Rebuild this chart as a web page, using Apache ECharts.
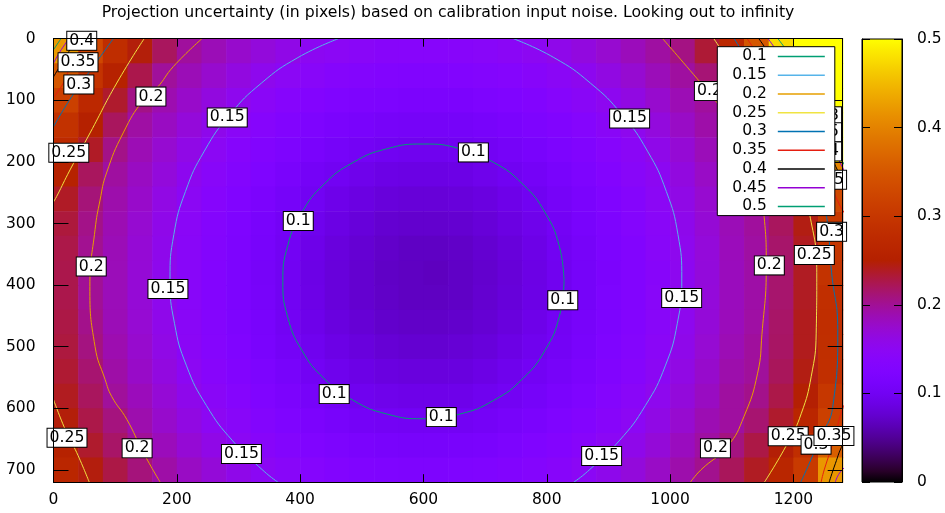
<!DOCTYPE html>
<html>
<head>
<meta charset="utf-8">
<script src="https://cdn.jsdelivr.net/npm/echarts@6/dist/echarts.min.js"></script>
<style>
  html,body{margin:0;padding:0;background:#fff}
  #main{width:945px;height:513px}
</style>
</head>
<body>
<div id="main"></div>
<script>
// cell centres of the sampled field (pixel coords of the camera image)
const xCenters = [20,60,100,140,180,220,260,300,340,380,420,460,500,540,580,620,660,700,740,780,820,860,900,940,980,1020,1060,1100,1140,1180,1220,1260];
const yCenters = [20,60,100,140,180,220,260,300,340,380,420,460,500,540,580,620,660,700];

// projection uncertainty, one row per yCenters entry
const uncertainty = [
  [0.421,0.327,0.281,0.247,0.220,0.197,0.186,0.176,0.167,0.159,0.151,0.147,0.143,0.140,0.139,0.139,0.140,0.142,0.146,0.151,0.157,0.165,0.174,0.184,0.195,0.207,0.233,0.271,0.350,0.475,0.580,0.650],
  [0.350,0.293,0.256,0.226,0.198,0.186,0.175,0.164,0.155,0.147,0.141,0.136,0.132,0.129,0.128,0.128,0.129,0.132,0.135,0.140,0.146,0.153,0.163,0.173,0.185,0.196,0.212,0.240,0.291,0.392,0.520,0.600],
  [0.316,0.271,0.236,0.206,0.189,0.177,0.165,0.154,0.145,0.138,0.131,0.126,0.122,0.119,0.117,0.117,0.118,0.121,0.125,0.130,0.137,0.144,0.152,0.163,0.175,0.187,0.197,0.222,0.246,0.305,0.416,0.580],
  [0.291,0.252,0.220,0.194,0.181,0.168,0.156,0.145,0.137,0.129,0.122,0.116,0.112,0.109,0.107,0.107,0.108,0.111,0.116,0.121,0.128,0.135,0.144,0.154,0.166,0.179,0.192,0.204,0.230,0.266,0.336,0.560],
  [0.275,0.238,0.205,0.187,0.173,0.160,0.148,0.138,0.129,0.121,0.114,0.108,0.103,0.099,0.097,0.097,0.099,0.102,0.107,0.113,0.120,0.128,0.137,0.146,0.158,0.171,0.185,0.195,0.218,0.243,0.300,0.525],
  [0.255,0.220,0.196,0.181,0.167,0.153,0.142,0.132,0.123,0.114,0.106,0.100,0.094,0.090,0.088,0.088,0.090,0.094,0.099,0.105,0.113,0.122,0.131,0.141,0.151,0.165,0.179,0.194,0.207,0.231,0.266,0.400],
  [0.238,0.211,0.191,0.177,0.162,0.148,0.138,0.127,0.117,0.108,0.100,0.093,0.087,0.083,0.081,0.081,0.083,0.086,0.092,0.099,0.107,0.116,0.126,0.136,0.147,0.160,0.174,0.189,0.200,0.224,0.250,0.330],
  [0.231,0.205,0.188,0.173,0.158,0.145,0.134,0.124,0.113,0.104,0.095,0.088,0.082,0.077,0.075,0.075,0.077,0.081,0.087,0.094,0.103,0.112,0.122,0.133,0.143,0.156,0.171,0.186,0.197,0.220,0.244,0.305],
  [0.227,0.202,0.186,0.171,0.156,0.143,0.132,0.121,0.111,0.101,0.092,0.084,0.078,0.073,0.070,0.070,0.072,0.077,0.083,0.091,0.100,0.109,0.119,0.130,0.141,0.154,0.168,0.184,0.195,0.216,0.240,0.298],
  [0.226,0.200,0.185,0.170,0.155,0.142,0.131,0.120,0.109,0.100,0.090,0.083,0.076,0.071,0.069,0.068,0.071,0.075,0.081,0.089,0.098,0.108,0.118,0.129,0.140,0.152,0.167,0.183,0.193,0.215,0.239,0.292],
  [0.226,0.200,0.185,0.170,0.155,0.142,0.131,0.120,0.110,0.100,0.091,0.083,0.076,0.072,0.069,0.069,0.071,0.076,0.082,0.090,0.098,0.108,0.119,0.129,0.141,0.153,0.168,0.183,0.193,0.215,0.239,0.286],
  [0.228,0.204,0.186,0.172,0.157,0.144,0.133,0.122,0.112,0.102,0.093,0.085,0.079,0.074,0.072,0.072,0.074,0.078,0.084,0.092,0.101,0.110,0.120,0.131,0.142,0.154,0.169,0.184,0.194,0.217,0.241,0.284],
  [0.230,0.208,0.189,0.175,0.160,0.146,0.135,0.125,0.115,0.106,0.097,0.090,0.084,0.079,0.077,0.077,0.079,0.083,0.089,0.096,0.104,0.113,0.123,0.134,0.145,0.157,0.172,0.187,0.197,0.218,0.241,0.285],
  [0.234,0.214,0.193,0.178,0.164,0.150,0.139,0.129,0.119,0.111,0.102,0.095,0.090,0.086,0.084,0.084,0.085,0.089,0.095,0.101,0.109,0.118,0.128,0.138,0.148,0.162,0.176,0.191,0.198,0.221,0.244,0.286],
  [0.240,0.220,0.198,0.184,0.170,0.156,0.144,0.135,0.125,0.117,0.109,0.103,0.097,0.094,0.092,0.092,0.093,0.097,0.102,0.108,0.116,0.124,0.133,0.143,0.154,0.167,0.181,0.196,0.204,0.227,0.249,0.300],
  [0.247,0.227,0.209,0.190,0.176,0.163,0.150,0.141,0.132,0.124,0.117,0.111,0.106,0.103,0.101,0.101,0.102,0.106,0.110,0.116,0.123,0.131,0.140,0.149,0.161,0.174,0.188,0.196,0.214,0.236,0.265,0.315],
  [0.255,0.236,0.217,0.199,0.184,0.171,0.159,0.148,0.140,0.132,0.126,0.120,0.116,0.113,0.111,0.111,0.112,0.115,0.119,0.125,0.131,0.139,0.147,0.157,0.169,0.182,0.195,0.208,0.228,0.248,0.283,0.360],
  [0.265,0.246,0.228,0.210,0.193,0.180,0.169,0.158,0.148,0.141,0.135,0.130,0.126,0.123,0.121,0.121,0.123,0.125,0.129,0.134,0.140,0.147,0.156,0.167,0.179,0.191,0.203,0.221,0.239,0.264,0.305,0.420]
];

// contour levels and the traced iso-lines (one or more pieces per level)
const levelNames = ['0.1','0.15','0.2','0.25','0.3','0.35','0.4','0.45','0.5'];
const level010 = [
  [[828,394],[820.2,451.7],[797.4,505.5],[761.2,551.7],[714,587.1],[659,609.4],[600,617],[541,609.4],[486,587.1],[438.8,551.7],[402.6,505.5],[379.8,451.7],[372,394],[379.8,336.3],[402.6,282.5],[438.8,236.3],[486,200.9],[541,178.6],[600,171],[659,178.6],[714,200.9],[761.2,236.3],[797.4,282.5],[820.2,336.3],[828,394]]
];
const level015 = [
  [[462,0],[396.5,30.6],[337.2,72.1],[286.1,123.2],[244.6,182.5],[214,248.1],[195.2,317.8],[189,390],[196.2,462],[215.8,531.2],[248,595.5],[290.7,653],[341.7,702.5],[364,720]],
  [[746,0],[811.5,30.6],[870.8,72.1],[921.9,123.2],[963.4,182.5],[994,248.1],[1012.8,317.8],[1019,390],[1011.8,462],[992.2,531.2],[960,595.5],[917.3,653],[866.3,702.5],[843.8,720]]
];
const level020 = [
  [[240.7,0],[194.6,45],[167.6,80],[146,99],[113,153],[86,218],[75.5,262],[67.4,310],[59,402],[67.4,500],[83.6,553],[94.5,581],[118.9,618],[145.8,672],[173,720]],
  [[988,0],[1050,72],[1077,105],[1110,150],[1135,215],[1152,283],[1156,370],[1149,480],[1142,543],[1120,613],[1093,662],[1050,700],[1033,720]]
];
const level025 = [
  [[147,0],[102.6,72],[59.3,153],[26.8,213],[5.2,256],[0,265]],
  [[0,586],[21.4,640],[37.7,672],[58,720]],
  [[1071,0],[1130,90],[1180,170],[1210,230],[1226,283],[1238,380],[1237,478],[1229,548],[1213,608],[1191,656],[1153,720]]
];
const level030 = [
  [[97,0],[64.6,45],[29.6,94],[0,143]],
  [[1104,0],[1160,90],[1210,170],[1240,240],[1253,283],[1262,380],[1272,472],[1264,597],[1242,651],[1226,689],[1212,720]]
];
const level035 = [
  [[60,0],[30,40],[16,72],[0,95]],
  [[1125,0],[1190,100],[1245,200],[1275,270],[1290,292]],
  [[1290,585],[1280,600],[1266,651],[1250,700],[1245,720]]
];
const level040 = [
  [[38,0],[18,32],[0,62]],
  [[1144,0],[1210,100],[1260,190],[1290,255]],
  [[1290,645],[1280,659],[1268,690],[1258,720]]
];
const level045 = [
  [[25,0],[10,22],[0,40]],
  [[1159,0],[1225,100],[1270,190],[1290,228]],
  [[1290,690],[1275,705],[1268,720]]
];
const level050 = [
  [[12,0],[0,18]],
  [[1175,0],[1240,100],[1275,190],[1290,215]]
];
const contourPieces = [level010, level015, level020, level025, level030, level035, level040, level045, level050];

// inline contour labels
const labelText = ['0.4','0.35','0.3','0.2','0.15','0.25','0.1','0.15','0.2','0.1','0.2','0.15','0.1','0.15','0.1','0.1','0.15','0.2','0.25','0.3','0.25','0.3','0.35','0.2','0.15','0.2','0.25','0.3','0.35','0.4','0.45'];
const labelX = [45.8,39.8,41.1,158,281.8,24.8,681,934.4,1063.8,397,61.2,185.6,826,1018.8,455.3,629,889,1161,1234,1262,1191.6,1236.8,1265.8,1073.6,304.8,135.6,21.9,1253.9,1245.7,1253.9,1253.9];
const labelY = [3.4,38.1,74.3,94,127.8,185,184.6,129.4,85,296,369.8,406.3,424.6,421,577,614.3,677.6,368,351,313.5,645.2,659,645,665,674.3,665,648,126,152,183,229];

const colorbarTicks = [0, 0.1, 0.2, 0.3, 0.4, 0.5];

const FONT = 'DejaVu Sans';
const lineColors = ['#009e73','#56b4e9','#e69f00','#f0e442','#0072b2','#e51e10','#000000','#9400d3','#009e73'];

// gnuplot default pm3d palette (rgbformulae 7,5,15)
function pm3d(t){
  const r = Math.sqrt(t), g = t*t*t, b = Math.max(0, Math.sin(2*Math.PI*t));
  return 'rgb(' + Math.round(255*r) + ',' + Math.round(255*g) + ',' + Math.round(255*b) + ')';
}
const palette = [];
for (let i = 0; i <= 40; i++) palette.push(pm3d(i/40));
const barStops = palette.map((c, i) => ({offset: 1 - i/40, color: c}));

const halfX = (xCenters[1] - xCenters[0]) / 2;
const halfY = (yCenters[1] - yCenters[0]) / 2;
const cells = [];
uncertainty.forEach((row, j) => row.forEach((v, i) => cells.push([xCenters[i], yCenters[j], v])));

const axisLine = {show:true, onZero:false, lineStyle:{color:'#000', width:1}};
const tickFont = {color:'#000', fontSize:15.5, fontFamily:FONT, formatter: v => String(v)};

const series = [{
  type:'custom', name:'field', xAxisIndex:0, yAxisIndex:0, clip:true, silent:true, z:1,
  encode:{x:0, y:1},
  data: cells,
  renderItem: function(params, api){
    const x = api.value(0), y = api.value(1);
    const a = api.coord([x - halfX, y - halfY]);
    const b = api.coord([x + halfX, y + halfY]);
    return {
      type:'rect',
      shape:{x:Math.min(a[0],b[0]), y:Math.min(a[1],b[1]), width:Math.abs(b[0]-a[0]) + 0.6, height:Math.abs(b[1]-a[1]) + 0.6},
      style:{fill: api.visual('color')}
    };
  }
}];

contourPieces.forEach((pieces, k) => {
  pieces.forEach(seg => {
    series.push({
      type:'line', name: levelNames[k], xAxisIndex:0, yAxisIndex:0,
      data: seg, symbol:'none', showSymbol:false, smooth:0.5, clip:true, silent:true, z:2,
      color: lineColors[k],
      lineStyle:{color: lineColors[k], width:1},
      itemStyle:{color: lineColors[k]}
    });
  });
});

series.push({
  type:'scatter', name:'labels', xAxisIndex:0, yAxisIndex:0, silent:true, z:3,
  symbolSize:1, itemStyle:{color:'transparent', opacity:1},
  data: labelText.map((t, i) => ({name:t, value:[labelX[i], labelY[i]]})),
  label:{
    show:true, position:'inside', formatter:'{b}',
    color:'#000', fontSize:15.7, fontFamily:FONT, lineHeight:16,
    backgroundColor:'#fff', borderColor:'#000', borderWidth:1, padding:[1,2,1,2]
  }
});

const chart = echarts.init(document.getElementById('main'));
chart.setOption({
  animation:false,
  backgroundColor:'#fff',
  textStyle:{fontFamily:FONT},
  title:{
    text:'Projection uncertainty (in pixels) based on calibration input noise. Looking out to infinity',
    left:448, top:5, textAlign:'center', padding:0,
    textStyle:{fontSize:15.7, fontWeight:'normal', color:'#000', fontFamily:FONT}
  },
  grid:[
    {left:53.5, top:38.7, width:789.2, height:443.5, show:false, outerBoundsMode:'none'},
    {left:862, top:39, width:40, height:443, show:true, borderColor:'#000', borderWidth:1, outerBoundsMode:'none',
     backgroundColor:{type:'linear', x:0, y:0, x2:0, y2:1, colorStops: barStops}}
  ],
  visualMap:{type:'continuous', show:false, min:0, max:0.5, dimension:2, seriesIndex:0, inRange:{color: palette}},
  xAxis:[
    {gridIndex:0, type:'value', min:0, max:1280, interval:200, position:'bottom', z:10, axisLine,
     axisTick:{show:true, inside:true, length:8, lineStyle:{color:'#000'}},
     axisLabel:Object.assign({margin:10, showMaxLabel:false}, tickFont), splitLine:{show:false}},
    {gridIndex:0, type:'value', min:0, max:1280, interval:200, position:'top', z:10, axisLine,
     axisTick:{show:true, inside:true, length:8, lineStyle:{color:'#000'}},
     axisLabel:{show:false}, splitLine:{show:false}},
    {gridIndex:1, type:'value', min:0, max:1, show:false}
  ],
  yAxis:[
    {gridIndex:0, type:'value', min:0, max:720, interval:100, inverse:true, position:'left', z:10, axisLine,
     axisTick:{show:true, inside:true, length:15, lineStyle:{color:'#000'}},
     axisLabel:Object.assign({margin:18, showMaxLabel:false}, tickFont), splitLine:{show:false}},
    {gridIndex:0, type:'value', min:0, max:720, interval:100, inverse:true, position:'right', z:10, axisLine,
     axisTick:{show:true, inside:true, length:15, lineStyle:{color:'#000'}},
     axisLabel:{show:false}, splitLine:{show:false}},
    {gridIndex:1, type:'value', min:colorbarTicks[0], max:colorbarTicks[colorbarTicks.length-1], interval:colorbarTicks[1]-colorbarTicks[0],
     position:'right', z:10, axisLine,
     axisTick:{show:true, inside:true, length:8, lineStyle:{color:'#000'}},
     axisLabel:Object.assign({margin:15}, tickFont), splitLine:{show:false}},
    {gridIndex:1, type:'value', min:0, max:0.5, interval:0.1, position:'left', z:10, axisLine,
     axisTick:{show:true, inside:true, length:8, lineStyle:{color:'#000'}},
     axisLabel:{show:false}, splitLine:{show:false}}
  ],
  legend:{
    data: levelNames, orient:'vertical', left:717.3, top:46.7,
    align:'right', icon:'rect', itemWidth:47, itemHeight:1.5, itemGap:2.75,
    padding:[1.7,10,1.2,15], backgroundColor:'#fff', borderColor:'#000', borderWidth:1,
    selectedMode:false, z:20,
    formatter:'{a|{name}}',
    textStyle:{color:'#000', fontSize:15.5, fontFamily:FONT,
      rich:{a:{width:40, align:'right', color:'#000', fontSize:15.5, fontFamily:FONT, padding:[0,6,0,0]}}}
  },
  series: series
});
</script>
</body>
</html>
